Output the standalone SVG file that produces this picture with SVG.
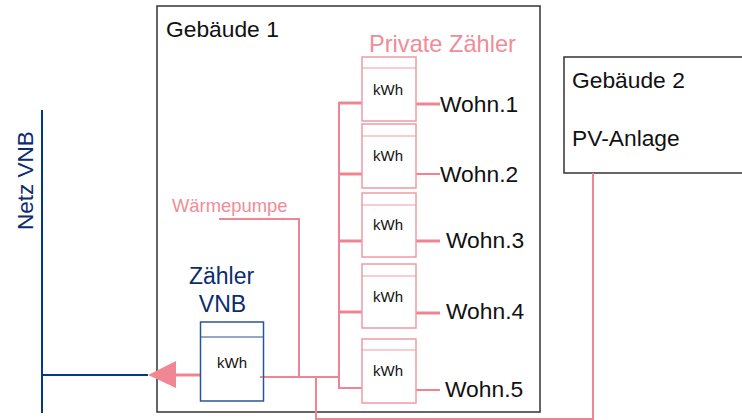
<svg xmlns="http://www.w3.org/2000/svg" width="742" height="420" viewBox="0 0 742 420">
<style>
text{font-family:"Liberation Sans",Arial,sans-serif}
.bld{fill:#fff;stroke:#333;stroke-width:1.5}
.blk{fill:#111;font-size:22.8px}
.pk{fill:#F08C98}
.navy{fill:#0B2C6E}
.meter{fill:#fff;stroke:#F09AA5;stroke-width:1.5}
.mline{stroke:#F09AA5;stroke-width:1.2}
.kwh{fill:#111;font-size:15px;text-anchor:middle}
.conn{fill:none;stroke:#EF8593;stroke-width:2}
.br{fill:none;stroke:#EF8593;stroke-width:3}
.blue{fill:none;stroke:#003A80;stroke-width:2}
</style>
<g id="netz-vnb">
<line class="blue" x1="42" y1="110" x2="42" y2="413"/>
<text class="navy" font-size="22.5" transform="translate(33,230) rotate(-90)">Netz VNB</text>
</g>
<g id="gebaeude1">
<rect class="bld" x="157" y="6" width="383" height="406"/>
<text class="blk" x="166" y="37">Gebäude 1</text>
</g>
<g id="gebaeude2">
<rect class="bld" x="564" y="57" width="190" height="116"/>
<text class="blk" x="572" y="88">Gebäude 2</text>
<text class="blk" x="572" y="146">PV-Anlage</text>
</g>
<g id="label-private">
<text class="pk" font-size="23.6" x="369" y="52">Private Zähler</text>
</g>
<g id="label-waermepumpe">
<text class="pk" font-size="18.4" x="172" y="212">Wärmepumpe</text>
</g>
<g id="connectors">
<polyline class="conn" points="219,219 299,219 299,377"/>
<line class="conn" x1="260" y1="377" x2="339" y2="377"/>
<line class="conn" x1="339" y1="102" x2="339" y2="389"/>
<line class="br" x1="339" y1="103" x2="362" y2="103"/>
<line class="br" x1="339" y1="174" x2="362" y2="174"/>
<line class="br" x1="339" y1="241" x2="362" y2="241"/>
<line class="br" x1="339" y1="312" x2="362" y2="312"/>
<line class="conn" x1="339" y1="388" x2="362" y2="388"/>
<line class="br" x1="416" y1="104" x2="440" y2="104"/>
<line class="conn" x1="416" y1="174" x2="440" y2="174"/>
<line class="br" x1="416" y1="241" x2="440" y2="241"/>
<line class="br" x1="416" y1="313" x2="440" y2="313"/>
<line class="conn" x1="416" y1="390" x2="440" y2="390"/>
<polyline class="conn" points="316,377 316,419 593,419 593,173"/>
<line class="br" x1="170" y1="375" x2="200" y2="375"/>
<polygon fill="#F08794" points="148,375 176,361 176,388"/>
<line class="blue" x1="42" y1="375" x2="148" y2="375"/>
</g>
<g id="zaehler-vnb">
<text class="navy" font-size="23" x="221.5" y="284" text-anchor="middle">Zähler</text>
<text class="navy" font-size="23" x="222.5" y="312" text-anchor="middle">VNB</text>
<rect x="200.5" y="322" width="63" height="79" fill="#fff" stroke="#2A5594" stroke-width="1.5"/>
<line x1="200.5" y1="337" x2="263.5" y2="337" stroke="#2A5594" stroke-width="1.2"/>
<text class="kwh" x="232" y="368">kWh</text>
<line class="conn" x1="260" y1="377" x2="263" y2="377"/>
</g>
<g id="meter1">
<rect class="meter" x="362" y="57" width="54" height="64"/>
<line class="mline" x1="362" y1="68" x2="416" y2="68"/>
<text class="kwh" x="388" y="95">kWh</text>
<text class="blk" x="440" y="112">Wohn.1</text>
</g>
<g id="meter2">
<rect class="meter" x="362" y="124" width="54" height="64"/>
<line class="mline" x1="362" y1="136" x2="416" y2="136"/>
<text class="kwh" x="388" y="161">kWh</text>
<text class="blk" x="440" y="182">Wohn.2</text>
</g>
<g id="meter3">
<rect class="meter" x="362" y="193" width="54" height="64"/>
<line class="mline" x1="362" y1="205" x2="416" y2="205"/>
<text class="kwh" x="388" y="230">kWh</text>
<text class="blk" x="446" y="248">Wohn.3</text>
</g>
<g id="meter4">
<rect class="meter" x="362" y="264" width="54" height="64"/>
<line class="mline" x1="362" y1="276" x2="416" y2="276"/>
<text class="kwh" x="388" y="302">kWh</text>
<text class="blk" x="446" y="319">Wohn.4</text>
</g>
<g id="meter5">
<rect class="meter" x="362" y="339" width="54" height="64"/>
<line class="mline" x1="362" y1="350" x2="416" y2="350"/>
<text class="kwh" x="388" y="376">kWh</text>
<text class="blk" x="445" y="397">Wohn.5</text>
</g>
</svg>
